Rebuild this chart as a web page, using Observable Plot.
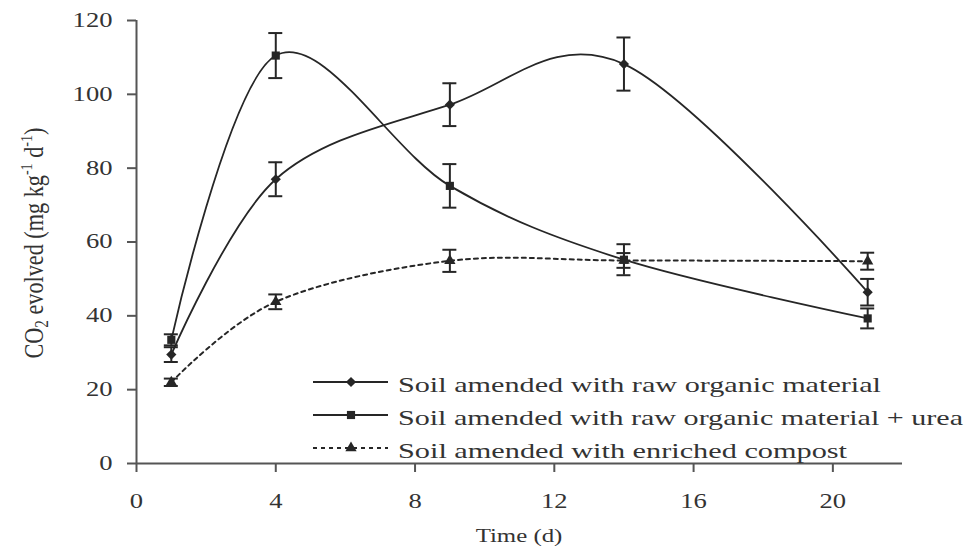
<!DOCTYPE html>
<html><head><meta charset="utf-8">
<script src="https://cdn.jsdelivr.net/npm/d3@7"></script>
<script src="https://cdn.jsdelivr.net/npm/@observablehq/plot@0.6"></script>
<style>body{margin:0;background:#fff}</style>
</head><body><div id="chart"></div>
<script>
const days = [1, 4, 9, 14, 21];
const seriesNames = [
  "Soil amended with raw organic material",
  "Soil amended with raw organic material + urea",
  "Soil amended with enriched compost"
];
const rawValues = [29.5, 77, 97.2, 108.2, 46.4];
const rawErrors = [2, 4.6, 5.8, 7.2, 3.6];
const ureaValues = [33.5, 110.5, 75.2, 55.2, 39.3];
const ureaErrors = [1.5, 6.1, 5.9, 4.2, 2.7];
const compostValues = [22, 43.8, 54.9, 55, 54.8];
const compostErrors = [1, 2, 3, 2, 2.3];
const xTicks = [0, 4, 8, 12, 16, 20];
const yTicks = [0, 20, 40, 60, 80, 100, 120];
const xLabel = "Time (d)";

const ink = "#262626";
const FONT = "'Liberation Serif', 'Times New Roman', serif";

function rows(name, vals, errs) {
  return days.map((d, i) => ({series: name, day: d, value: vals[i], lo: vals[i] - errs[i], hi: vals[i] + errs[i]}));
}
const raw = rows(seriesNames[0], rawValues, rawErrors);
const urea = rows(seriesNames[1], ureaValues, ureaErrors);
const compost = rows(seriesNames[2], compostValues, compostErrors);

const symbols = ["diamond2", "square", "triangle2"];
const radii = [4.6, 4.6, 5.4];

const errMarks = (data) => [
  Plot.ruleX(data, {x: "day", y1: "lo", y2: "hi", stroke: ink, strokeWidth: 2}),
  Plot.ruleY(data, {y: "lo", x1: "day", x2: "day", insetLeft: -7, insetRight: -7, stroke: ink, strokeWidth: 2}),
  Plot.ruleY(data, {y: "hi", x1: "day", x2: "day", insetLeft: -7, insetRight: -7, stroke: ink, strokeWidth: 2})
];

const chart = Plot.plot({
  width: 969,
  height: 550,
  marginLeft: 136,
  marginRight: 67,
  marginTop: 20,
  marginBottom: 87,
  style: {fontFamily: FONT, fontSize: "20px", color: "#333", background: "#fff"},
  x: {domain: [0, 22]},
  y: {domain: [0, 120]},
  marks: [
    Plot.axisX({ticks: xTicks, tickSize: 9, tickPadding: 21, label: null, stroke: "#555", strokeWidth: 2, fontSize: 20}),
    Plot.axisY({ticks: yTicks, tickSize: 9, tickPadding: 15, label: null, stroke: "#555", strokeWidth: 2, fontSize: 20}),
    Plot.ruleY([0], {stroke: "#555", strokeWidth: 2}),
    Plot.ruleX([0], {stroke: "#555", strokeWidth: 2}),
    Plot.line(compost, {x: "day", y: "value", curve: "cardinal", stroke: ink, strokeWidth: 2, strokeDasharray: "4,4"}),
    Plot.line(raw, {x: "day", y: "value", curve: "cardinal", stroke: ink, strokeWidth: 1.8}),
    Plot.line(urea, {x: "day", y: "value", curve: "cardinal", stroke: ink, strokeWidth: 1.8}),
    ...errMarks(compost),
    Plot.dot(compost, {x: "day", y: "value", symbol: symbols[2], r: radii[2], fill: ink}),
    ...errMarks(raw),
    Plot.dot(raw, {x: "day", y: "value", symbol: symbols[0], r: radii[0], fill: ink}),
    ...errMarks(urea),
    Plot.dot(urea, {x: "day", y: "value", symbol: symbols[1], r: radii[1], fill: ink})
  ]
});
document.getElementById("chart").appendChild(chart);

const svg = d3.select(chart);

// widen tick labels horizontally (the reference is horizontally stretched)
function stretch(el, sx) {
  const xa = el.getAttribute("x");
  let tx = 0;
  if (xa !== null && /^-?[\d.]+$/.test(xa.trim())) { tx = +xa; el.removeAttribute("x"); }
  const t = el.getAttribute("transform") || "";
  el.setAttribute("transform", `${t} translate(${tx},0) scale(${sx},1)`);
}
svg.selectAll('g[aria-label="x-axis tick label"] text, g[aria-label="y-axis tick label"] text')
  .each(function() { stretch(this, 1.33); });

// x-axis title
svg.append("text")
  .attr("transform", "translate(519,542) scale(1.38,1)")
  .attr("text-anchor", "middle")
  .attr("font-family", FONT).attr("font-size", 18).attr("fill", "#333")
  .text(xLabel);

// y-axis title with sub/superscripts
const yl = svg.append("text")
  .attr("transform", "translate(43,243) rotate(-90) scale(1,1.25)")
  .attr("text-anchor", "middle")
  .attr("font-family", FONT).attr("font-size", 22).attr("fill", "#333")
  .attr("textLength", 231).attr("lengthAdjust", "spacingAndGlyphs");
yl.append("tspan").text("CO");
yl.append("tspan").attr("font-size", 15).attr("dy", 4).text("2");
yl.append("tspan").attr("dy", -4).text(" evolved (mg kg");
yl.append("tspan").attr("font-size", 14).attr("dy", -9).text("-1");
yl.append("tspan").attr("dy", 9).text(" d");
yl.append("tspan").attr("font-size", 14).attr("dy", -9).text("-1");
yl.append("tspan").attr("dy", 9).text(")");

// legend
const legendRowsY = [382, 415, 448];
const legendLens = [483, 565, 449];
const legendSymbols = [d3.symbolDiamond2, d3.symbolSquare, d3.symbolTriangle2];
seriesNames.forEach((name, i) => {
  const g = svg.append("g").attr("transform", `translate(0,${legendRowsY[i]})`);
  g.append("line").attr("x1", 313).attr("x2", 388).attr("y1", 0).attr("y2", 0)
    .attr("stroke", ink).attr("stroke-width", i === 2 ? 2 : 1.8)
    .attr("stroke-dasharray", i === 2 ? "4,4" : null);
  g.append("path").attr("transform", "translate(351,0)")
    .attr("d", d3.symbol(legendSymbols[i], Math.PI * radii[i] * radii[i])())
    .attr("fill", ink);
  g.append("text").attr("x", 398).attr("y", 10)
    .attr("text-anchor", "start")
    .attr("font-family", FONT).attr("font-size", 21).attr("fill", "#333")
    .attr("textLength", legendLens[i]).attr("lengthAdjust", "spacingAndGlyphs")
    .text(name);
});
</script>
</body></html>
